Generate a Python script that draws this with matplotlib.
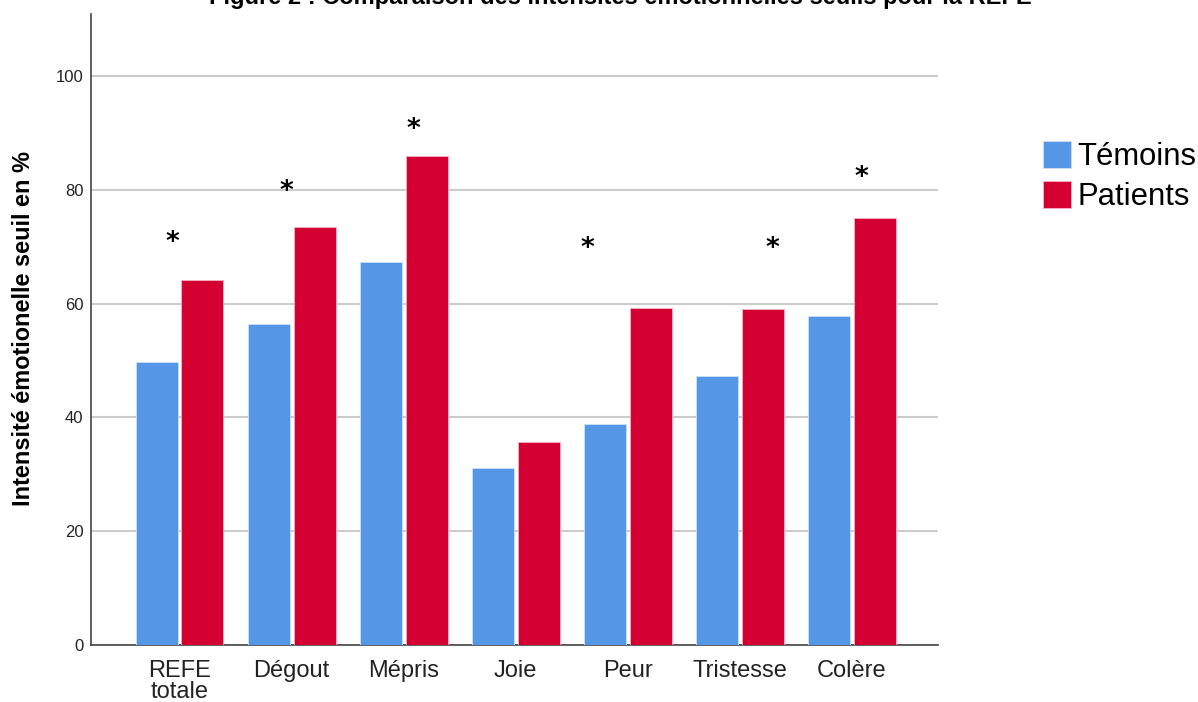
import matplotlib
matplotlib.use("Agg")
import matplotlib.pyplot as plt
import numpy as np

categories = ["REFE\ntotale", "Dégout", "Mépris", "Joie", "Peur", "Tristesse", "Colère"]
temoins = [49.7, 56.4, 67.3, 31.1, 38.8, 47.3, 57.8]
patients = [64.1, 73.5, 85.9, 35.7, 59.2, 59.1, 75.0]
# significance stars: (category position, height)
star_x = [-0.06, 0.955, 2.09, 3.64, 5.29, 6.09]
star_y = [70.6, 79.7, 90.6, 69.6, 69.6, 82.0]
yticks = [0, 20, 40, 60, 80, 100]

blue = "#5596E6"
red = "#D50032"

plt.rcParams['font.family'] = ['Liberation Sans', 'DejaVu Sans']

fig = plt.figure(figsize=(11.98, 7.02), dpi=100)
ax = fig.add_axes([91/1198, 57/702, (938-91)/1198, (645-14)/702])

x = np.arange(len(categories))
w = 0.375
off = 0.205
ax.bar(x - off, temoins, width=w, color=blue, edgecolor="#cfe0f7", linewidth=0.6,
       label="Témoins", zorder=3)
ax.bar(x + off, patients, width=w, color=red, edgecolor="#f3b3c4", linewidth=0.6,
       label="Patients", zorder=3)

for sx, sy in zip(star_x, star_y):
    ax.text(sx, sy, "*", ha="center", va="center", fontsize=19, fontweight="bold",
            family="DejaVu Sans", color="black", zorder=4)

ax.set_xlim(-0.79, 6.77)
ax.set_ylim(0, 110.9)
ax.set_yticks(yticks)
ax.set_yticklabels([str(v) for v in yticks], fontsize=12, color="#222222")
ax.set_xticks(x)
ax.set_xticklabels(categories, fontsize=17, color="#222222", linespacing=0.95)
ax.tick_params(axis="both", length=0)
ax.tick_params(axis="x", pad=11)
ax.tick_params(axis="y", pad=5.5)

ax.yaxis.grid(True, color="#cccccc", linewidth=1.5, zorder=0)
ax.set_axisbelow(True)
for s in ["top", "right"]:
    ax.spines[s].set_visible(False)
for s in ["left", "bottom"]:
    ax.spines[s].set_color("#444444")
    ax.spines[s].set_linewidth(1.2)

ax.set_ylabel("Intensité émotionelle seuil en %", fontsize=16.9, fontweight="bold")
ax.yaxis.set_label_coords((35 - 91) / 847, (645 - 329) / 631)

fig.text(620/1198, 1 - 4/702, "Figure 2 : Comparaison des intensités émotionnelles seuils pour la REFE",
         ha="center", va="baseline", fontsize=17, fontweight="bold")

fig.legend(loc="upper left", bbox_to_anchor=(1043/1198, 1 - 141/702), frameon=False,
           fontsize=22.3, handlelength=0.92, handleheight=0.95, handletextpad=0.2,
           labelspacing=0.3, borderaxespad=0, borderpad=0)

fig.savefig("out.png", dpi=100)
